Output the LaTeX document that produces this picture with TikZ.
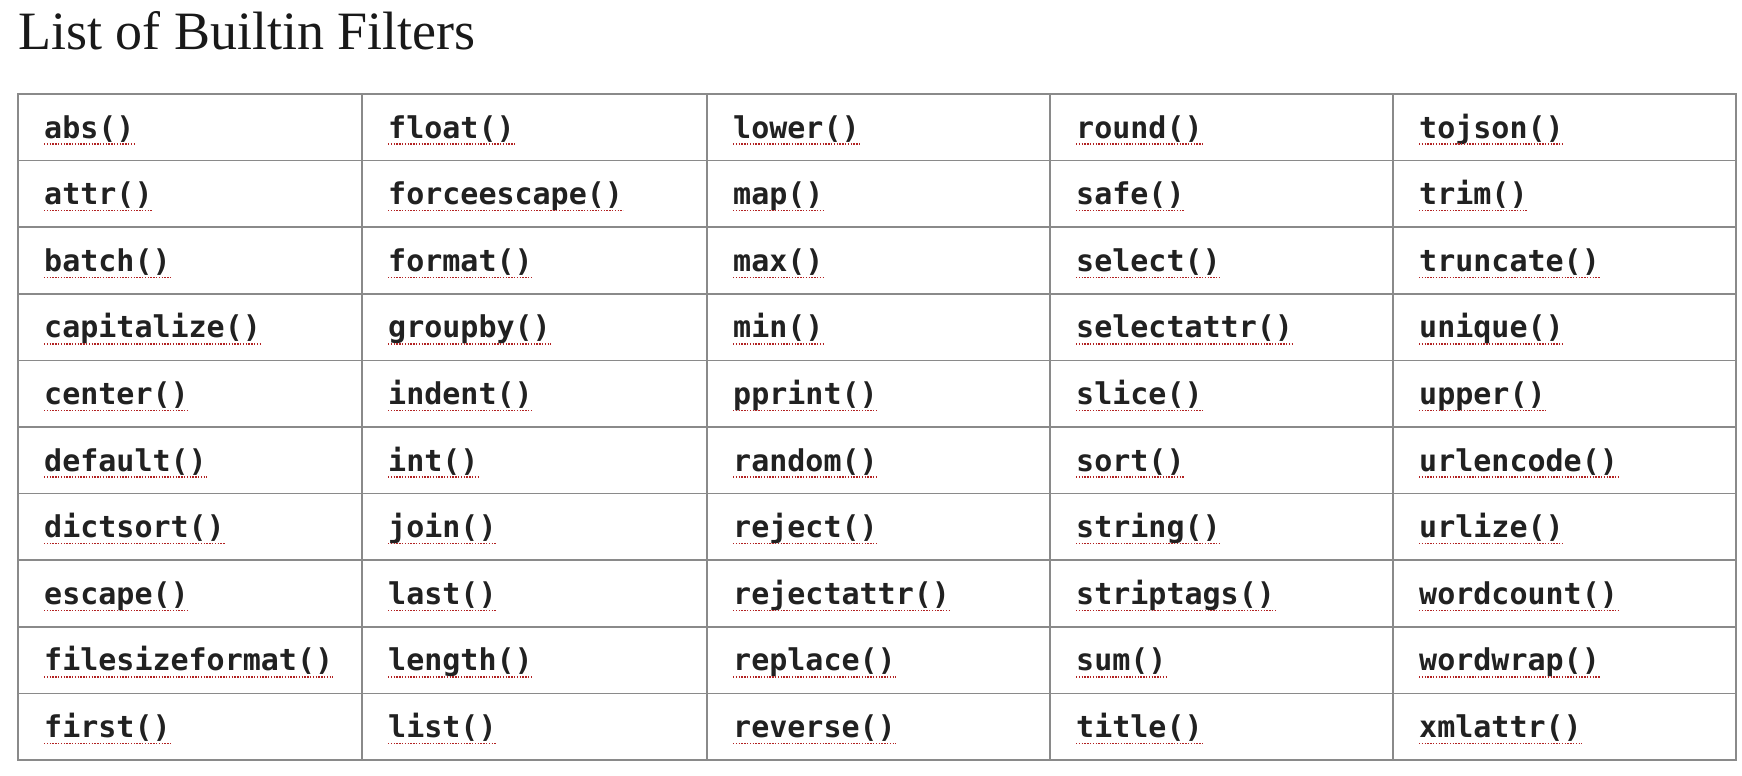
\documentclass[tikz,border=0pt]{standalone}
\usepackage{fontspec}
\setmainfont{Liberation Serif}
\newfontfamily\codefont{DejaVu Sans Mono}
\definecolor{gridc}{HTML}{8A8A8A}
\definecolor{uline}{HTML}{B22222}
\begin{document}
\begin{tikzpicture}[x=1pt,y=-1pt,
  cell/.style={anchor=base west,inner sep=0pt,font=\codefont\bfseries\fontsize{30}{30}\selectfont,text=black!87},
  ul/.style={uline,line width=1.4pt,dash pattern=on 1.4pt off 1.4pt}]
\useasboundingbox (0,0) rectangle (1742,776);
\node[anchor=base west,inner sep=0pt,font=\fontsize{54}{54}\selectfont,text=black!90] (title) at (18,50) {List of Builtin Filters};
\def\colx{{18,362,707,1050,1393}}
\foreach \c [count=\i from 0] in {%
 {abs(),attr(),batch(),capitalize(),center(),default(),dictsort(),escape(),filesizeformat(),first()},
 {float(),forceescape(),format(),groupby(),indent(),int(),join(),last(),length(),list()},
 {lower(),map(),max(),min(),pprint(),random(),reject(),rejectattr(),replace(),reverse()},
 {round(),safe(),select(),selectattr(),slice(),sort(),string(),striptags(),sum(),title()},
 {tojson(),trim(),truncate(),unique(),upper(),urlencode(),urlize(),wordcount(),wordwrap(),xmlattr()}}{
  \foreach \t [count=\j from 0] in \c {
    \pgfmathsetmacro\xx{\colx[\i]+26}
    \pgfmathsetmacro\yy{94+66.6*\j+44}
    \node[cell] (n\i-\j) at (\xx,\yy) {\t};
    \draw[ul] ([yshift=-6pt]n\i-\j.base west) -- ([yshift=-6pt]n\i-\j.base east);
  }
}
\draw[gridc,line width=1.5pt] (18,94) rectangle (1736,760);
\foreach \x in {362,707,1050,1393} \draw[gridc,line width=1.5pt] (\x,94) -- (\x,760);
\foreach \j in {1,...,9} \draw[gridc,line width=1.5pt] (18,94+66.6*\j) -- (1736,94+66.6*\j);
\end{tikzpicture}
\end{document}
